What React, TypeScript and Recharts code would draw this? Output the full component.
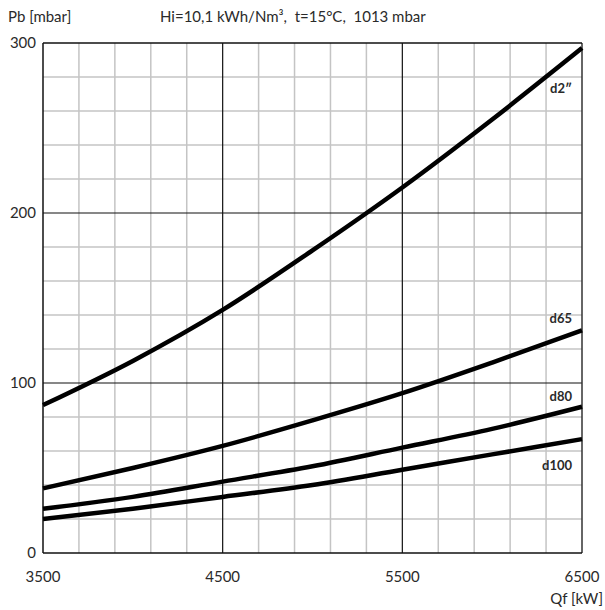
import { CartesianGrid, Line, LineChart, ReferenceLine, XAxis, YAxis } from "recharts";

const qf = [3500, 4000, 4500, 5000, 5500, 6000, 6500];
const d2 = [87, 113, 143, 178, 215, 255, 297];
const d65 = [38, 50, 63, 78, 94, 112, 131];
const d80 = [26, 33, 42, 51, 62, 73, 86];
const d100 = [20, 26, 33, 40, 49, 58, 67];

const xTicks = [3500, 4500, 5500, 6500];
const yTicks = [0, 100, 200, 300];
const minorX = [3700, 3900, 4100, 4300, 4700, 4900, 5100, 5300, 5700, 5900, 6100, 6300];
const minorY = [20, 40, 60, 80, 120, 140, 160, 180, 220, 240, 260, 280];
const majorX = [4500, 5500];
const majorY = [100, 200];

const dados = qf.map((q, i) => ({ q, d2: d2[i], d65: d65[i], d80: d80[i], d100: d100[i] }));

const FONT = "Lato, 'Open Sans', sans-serif";
const INK = "#2a2a2a";

const endLabel = (text: string, dx: number, dy: number) =>
  // eslint-disable-next-line @typescript-eslint/no-explicit-any
  (props: any) => {
    if (props.index !== qf.length - 1) return null;
    return (
      <text
        x={props.x + dx}
        y={props.y + dy}
        textAnchor="end"
        dominantBaseline="central"
        fontFamily={FONT}
        fontWeight={700}
        fontSize={13}
        fill={INK}
      >
        {text}
      </text>
    );
  };

const series = [
  { key: "d2", label: endLabel("d2\u2033", -10, 40) },
  { key: "d65", label: endLabel("d65", -10, -12) },
  { key: "d80", label: endLabel("d80", -10, -11) },
  { key: "d100", label: endLabel("d100", -10, 26) },
];

export default function App() {
  return (
    <div style={{ position: "absolute", left: 0, top: 0, width: 605, height: 610, background: "#fff", fontFamily: FONT }}>
      <div style={{ position: "absolute", left: 8, top: 7, fontSize: 15, color: INK }}>Pb [mbar]</div>
      <div style={{ position: "absolute", left: 160, top: 7, fontSize: 15, color: INK }}>
        Hi=10,1 kWh/Nm³,&nbsp; t=15°C,&nbsp; 1013 mbar
      </div>
      <div style={{ position: "absolute", right: 2, top: 589, fontSize: 15, color: INK }}>Qf [kW]</div>
      <LineChart width={605} height={610} data={dados} margin={{ top: 43, right: 23, bottom: 0, left: 0 }}>
        <CartesianGrid stroke="none" />
        <XAxis
          dataKey="q"
          type="number"
          domain={[3500, 6500]}
          ticks={xTicks}
          height={57}
          tickSize={0}
          tickMargin={18}
          axisLine={false}
          tick={{ fill: INK, fontSize: 15, fontFamily: FONT }}
        />
        <YAxis
          type="number"
          domain={[0, 300]}
          ticks={yTicks}
          width={43}
          tickSize={0}
          tickMargin={7}
          axisLine={false}
          tick={{ fill: INK, fontSize: 15, fontFamily: FONT }}
        />
        {minorX.map((v) => (
          <ReferenceLine key={"mx" + v} x={v} stroke="#c4c4c4" strokeWidth={1.5} />
        ))}
        {minorY.map((v) => (
          <ReferenceLine key={"my" + v} y={v} stroke="#c4c4c4" strokeWidth={1.5} />
        ))}
        {majorX.map((v) => (
          <ReferenceLine key={"MX" + v} x={v} stroke="#111" strokeWidth={1.2} />
        ))}
        {majorY.map((v) => (
          <ReferenceLine key={"MY" + v} y={v} stroke="#111" strokeWidth={1.2} />
        ))}
        <ReferenceLine x={3500} stroke="#111" strokeWidth={1.5} />
        <ReferenceLine x={6500} stroke="#333" strokeWidth={1.5} />
        <ReferenceLine y={0} stroke="#111" strokeWidth={1.5} />
        <ReferenceLine y={300} stroke="#111" strokeWidth={1.5} />
        {series.map((s) => (
          <Line
            key={s.key}
            type="monotone"
            dataKey={s.key}
            stroke="#000"
            strokeWidth={4.5}
            dot={false}
            activeDot={false}
            label={s.label}
            isAnimationActive={false}
          />
        ))}
      </LineChart>
    </div>
  );
}
